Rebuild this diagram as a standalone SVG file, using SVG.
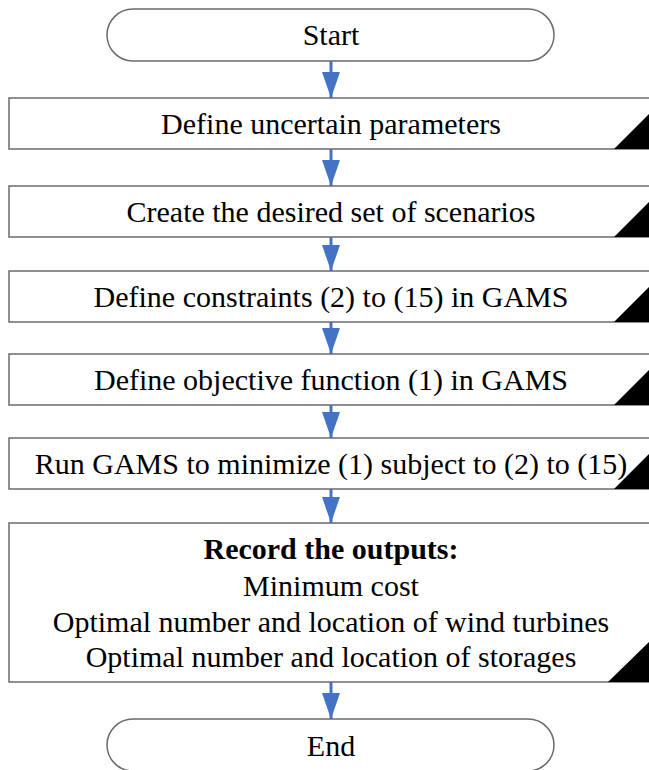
<svg xmlns="http://www.w3.org/2000/svg" width="649" height="770" viewBox="0 0 649 770">
<style>
.box{fill:#ffffff;stroke:#6b6b6b;stroke-width:1.5}
.tri{fill:#000000}
.t{font-family:"Liberation Serif","Times New Roman",serif;font-size:30px;fill:#000000;text-anchor:middle}
.b{font-weight:bold}
.conn{stroke:#4472C4;stroke-width:3;fill:none}
</style>
<defs>
<marker id="ah" viewBox="0 0 26 18" markerWidth="26" markerHeight="18" refX="26" refY="9" orient="auto" markerUnits="userSpaceOnUse">
<path d="M0,0 L26,9 L0,18 Z" fill="#4472C4"/>
</marker>
</defs>
<rect width="649" height="770" fill="#ffffff"/>
<g id="connectors">
<line class="conn" x1="331" y1="61" x2="331" y2="98" marker-end="url(#ah)"/>
<line class="conn" x1="331" y1="149" x2="331" y2="186" marker-end="url(#ah)"/>
<line class="conn" x1="331" y1="237" x2="331" y2="271" marker-end="url(#ah)"/>
<line class="conn" x1="331" y1="322" x2="331" y2="354" marker-end="url(#ah)"/>
<line class="conn" x1="331" y1="405" x2="331" y2="438" marker-end="url(#ah)"/>
<line class="conn" x1="331" y1="489" x2="331" y2="523" marker-end="url(#ah)"/>
<line class="conn" x1="331" y1="682" x2="331" y2="719" marker-end="url(#ah)"/>
</g>
<g id="start">
<rect class="box" x="107" y="9" width="447" height="52" rx="26" ry="26"/>
<text class="t" x="331" y="45">Start</text>
</g>
<g id="step1">
<rect class="box" x="9" y="98" width="660" height="51"/>
<polygon class="tri" points="614,149 649,149 649,114"/>
<text class="t" x="331" y="134">Define uncertain parameters</text>
</g>
<g id="step2">
<rect class="box" x="9" y="186" width="660" height="51"/>
<polygon class="tri" points="614,237 649,237 649,202"/>
<text class="t" x="331" y="222">Create the desired set of scenarios</text>
</g>
<g id="step3">
<rect class="box" x="9" y="271" width="660" height="51"/>
<polygon class="tri" points="614,322 649,322 649,287"/>
<text class="t" x="331" y="307">Define constraints (2) to (15) in GAMS</text>
</g>
<g id="step4">
<rect class="box" x="9" y="354" width="660" height="51"/>
<polygon class="tri" points="614,405 649,405 649,370"/>
<text class="t" x="331" y="390">Define objective function (1) in GAMS</text>
</g>
<g id="step5">
<rect class="box" x="9" y="438" width="660" height="51"/>
<polygon class="tri" points="614,489 649,489 649,454"/>
<text class="t" x="331" y="474">Run GAMS to minimize (1) subject to (2) to (15)</text>
</g>
<g id="step6">
<rect class="box" x="9" y="523" width="660" height="159"/>
<polygon class="tri" points="608,682 649,682 649,642"/>
<text class="t b" x="331" y="559">Record the outputs:</text>
<text class="t" x="331" y="596">Minimum cost</text>
<text class="t" x="331" y="632">Optimal number and location of wind turbines</text>
<text class="t" x="331" y="667">Optimal number and location of storages</text>
</g>
<g id="end">
<rect class="box" x="107" y="719" width="447" height="52" rx="26" ry="26"/>
<text class="t" x="331" y="756">End</text>
</g>
</svg>
